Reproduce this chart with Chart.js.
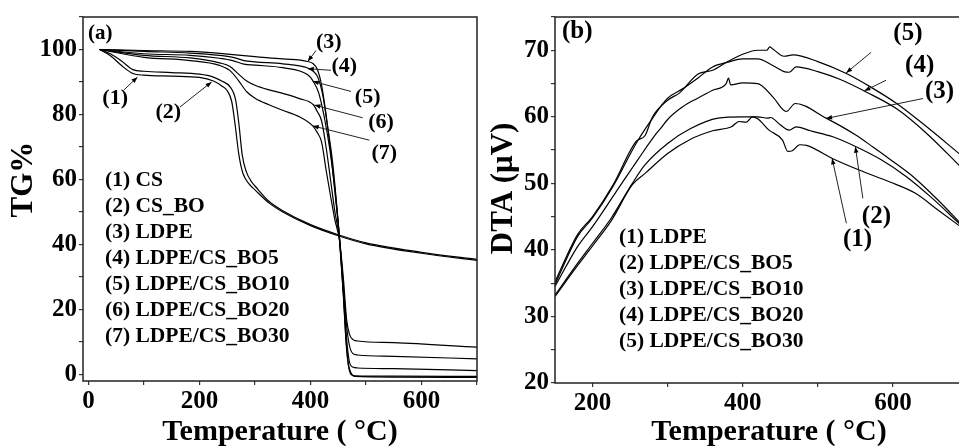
<!DOCTYPE html>
<html>
<head>
<meta charset="utf-8">
<script src="https://cdn.jsdelivr.net/npm/chart.js@4.4.1/dist/chart.umd.min.js"></script>
<style>
html,body{margin:0;padding:0;background:#fff;overflow:hidden;width:959px;height:447px}
#wrapA{position:absolute;left:0;top:0;width:480px;height:447px}
#wrapB{position:absolute;left:480px;top:0;width:496px;height:447px}
</style>
</head>
<body>
<div id="wrapA"><canvas id="tgChart" width="480" height="447"></canvas></div>
<div id="wrapB"><canvas id="dtaChart" width="496" height="447"></canvas></div>
<script>
// ---- panel (a): TG curves, [temperature, TG%]
const TG_CS = [[20,100],[40,98],[60,95],[80,92.6],[100,92.1],[150,91.8],[200,91.4],[225,90.3],[240,88.8],[250,87.3],[258,84],[264,77],[271,67.5],[278,62],[290,58.5],[300,56.8],[325,52.8],[350,50],[400,45.8],[450,42.7],[500,40.2],[600,37.3],[700,35.1]];
const TG_CSBO = [[20,100],[40,98.6],[60,96.4],[80,93.8],[100,93.3],[150,92.9],[200,92.4],[225,91.5],[240,90.3],[255,88.5],[265,84.5],[271,77],[277,67.5],[284,62.5],[295,59],[300,58],[325,53.3],[350,50.4],[400,46.1],[450,43],[500,40.5],[600,37.6],[700,35.4]];
const TG_LDPE = [[20,100],[100,99.7],[183,99.4],[236,98.8],[260,98.4],[300,97.8],[350,97.1],[395,96.3],[405,95.6],[412,94],[420,89],[428,80],[436,69],[444,56],[452,42.5],[459,25],[464,10],[468,3],[473,0],[480,-0.4],[550,-0.5],[700,-0.6]];
const TG_BO5 = [[20,100],[100,99.4],[183,98.9],[236,98.2],[260,97.6],[280,96.6],[300,96.2],[350,95.6],[395,94.3],[405,93.3],[413,91.5],[422,86],[431,76],[440,65],[452,42],[459,25],[464,11],[468,3.5],[473,0.5],[480,-0.6],[550,-0.8],[700,-0.9]];
const TG_BO10 = [[20,100],[100,98.7],[183,98.2],[236,97.3],[260,96.6],[280,95.5],[300,95.2],[350,94.4],[395,92.2],[405,90.2],[415,86.5],[425,79],[435,69],[444,57],[452,42.5],[459,26],[465,11],[470,4],[476,2.3],[485,2],[550,1.8],[700,1.2]];
const TG_BO20 = [[20,100],[100,98.2],[183,97.4],[236,95.9],[255,94.8],[270,92.5],[285,90.3],[300,89],[325,87.6],[350,86.5],[380,84.9],[405,83],[412,81],[420,78],[428,70],[436,60],[444,50],[452,42],[459,28],[465,15],[470,9],[476,6.5],[485,6],[550,5.6],[700,4.8]];
const TG_BO30 = [[20,100],[100,97.6],[183,96.6],[236,95.1],[255,93.5],[270,90.5],[285,87],[300,85],[325,83],[350,81.3],[380,79.3],[404,76.5],[412,74.5],[420,71.5],[428,63],[436,55],[444,47.5],[452,41.5],[459,30],[465,17],[470,12.5],[476,10.8],[485,10.3],[550,9.8],[700,8.4]];
const TG_NAMES = ["(1) CS","(2) CS_BO","(3) LDPE","(4) LDPE/CS_BO5","(5) LDPE/CS_BO10","(6) LDPE/CS_BO20","(7) LDPE/CS_BO30"];
const TG_XTICKS = [0,100,200,300,400,500,600,700];
const TG_YTICKS = [0,10,20,30,40,50,60,70,80,90,100,110];

// ---- panel (b): DTA curves, [temperature, µV]
const DTA_LDPE = [[150,33.0],[175,36.9],[200,40.6],[225,44.4],[253,49.8],[270,51.5],[300,54.5],[330,56.6],[360,57.9],[385,58.5],[395,59.3],[405,59.2],[413,60],[420,59.7],[435,58],[453,56.5],[460,54.8],[466,54.9],[476,55.8],[485,55.7],[520,53.7],[555,52],[596,50.2],[630,48.5],[660,46],[690,43.5]];
const DTA_BO5 = [[150,33.2],[175,37.2],[200,41],[225,44.8],[253,50],[270,52.8],[300,56],[330,58.2],[367,59.8],[400,60],[420,60],[433,59.8],[437,59.9],[450,58.8],[462,58],[471,58.5],[490,57.9],[520,57],[551,55.5],[585,53.5],[618,51],[650,48],[690,43.8]];
const DTA_BO10 = [[150,34.5],[180,40.5],[200,43.5],[230,48.5],[260,53.5],[285,57.5],[291,58.3],[300,59.6],[320,61.5],[340,62.8],[360,64],[378,65],[381,65.8],[384,64.8],[400,65.1],[420,65],[440,63],[458,60.8],[470,62],[511,59.8],[550,57.3],[573,55.5],[600,53.3],[627,51],[660,47.5],[690,44]];
const DTA_BO20 = [[150,34.8],[180,42],[200,44.8],[227,49.5],[258,56],[280,59.8],[300,62.8],[320,64.2],[340,65.8],[360,67.5],[380,68.2],[400,68.7],[420,68.7],[440,67.7],[455,66.8],[462,66.7],[471,67.5],[500,66.8],[530,65.6],[565,63.7],[605,61.2],[645,57.5],[690,52.5]];
const DTA_BO30 = [[150,35.2],[180,42.3],[200,45],[227,49.7],[258,56.3],[270,57.2],[280,60],[300,62.5],[316,63.6],[340,66.4],[360,67],[380,68.3],[400,69.4],[420,70],[432,70],[436,70.5],[440,70.2],[455,69.1],[467,69.3],[500,68.3],[538,66.5],[570,64.5],[605,62],[645,58.5],[690,54.3]];
const DTA_NAMES = ["(1) LDPE","(2) LDPE/CS_BO5","(3) LDPE/CS_BO10","(4) LDPE/CS_BO20","(5) LDPE/CS_BO30"];
const DTA_XTICKS = [200,300,400,500,600,700];
const DTA_YTICKS = [20,25,30,35,40,45,50,55,60,65,70,75];

// curve labels: [text, labelT, labelY, tailT, tailY, headT, headY]
const TG_ARROWS = [
  ["(1)",48,84.9,62.9,87.4,88,91.5],
  ["(2)",143.7,80.8,164.7,82.3,221.7,90],
  ["(3)",433,102.2,410,99.7,395,96.3],
  ["(4)",461,94.9,437,93.6,395,94.1],
  ["(5)",503,85.4,473,87.1,404,90.2],
  ["(6)",527,77.5,494,79,407,82.9],
  ["(7)",533,68,506,72.1,404,76.5]
];
const DTA_ARROWS = [
  ["(5)",620,72.5,571,69.7,537.8,66.6],
  ["(4)",635.6,67.7,591,65.5,562,63.9],
  ["(3)",662,63.75,640,62.75,511,59.75],
  ["(2)",578,45,560,47.75,550,55.5],
  ["(1)",553,41.6,538,44,519,53.75]
];

const SERIF = '"Liberation Serif", "Times New Roman", serif';
const font = px => 'bold ' + px + 'px ' + SERIF;

const panelText = {
  id:"panelText",
  afterDraw(chart, args, o){
    const ctx = chart.ctx, a = chart.chartArea;
    const xs = chart.scales.x, ys = chart.scales.y;
    ctx.save();
    // frame
    ctx.strokeStyle = "#222"; ctx.lineWidth = 1.5;
    ctx.strokeRect(a.left, a.top, a.right - a.left, a.bottom - a.top);
    ctx.fillStyle = "#000";
    ctx.textBaseline = "middle";
    // panel tag
    ctx.font = font(o.tagSize); ctx.textAlign = "left";
    ctx.fillText(o.tag, a.left + o.tagX, a.top + o.tagY);
    // legend text
    ctx.font = font(o.legendSize);
    o.names.forEach((n, i) => ctx.fillText(n, a.left + o.legendX, a.top + o.legendY + i * o.legendGap));
    // arrows + numbers
    ctx.font = font(o.arrowSize); ctx.textAlign = "center";
    ctx.lineWidth = 1;
    o.arrows.forEach(r => {
      ctx.fillText(r[0], xs.getPixelForValue(r[1]), ys.getPixelForValue(r[2]));
      const x1 = xs.getPixelForValue(r[3]), y1 = ys.getPixelForValue(r[4]);
      const x2 = xs.getPixelForValue(r[5]), y2 = ys.getPixelForValue(r[6]);
      const ang = Math.atan2(y2 - y1, x2 - x1);
      ctx.beginPath(); ctx.moveTo(x1, y1); ctx.lineTo(x2, y2); ctx.stroke();
      ctx.beginPath();
      ctx.moveTo(x2, y2);
      ctx.lineTo(x2 - 6 * Math.cos(ang) + 2.3 * Math.sin(ang), y2 - 6 * Math.sin(ang) - 2.3 * Math.cos(ang));
      ctx.lineTo(x2 - 6 * Math.cos(ang) - 2.3 * Math.sin(ang), y2 - 6 * Math.sin(ang) + 2.3 * Math.cos(ang));
      ctx.closePath(); ctx.fill();
    });
    ctx.restore();
  }
};

function lineSets(list){
  return list.map(d => ({
    data: d.map(p => ({x:p[0], y:p[1]})),
    borderColor:"#000", borderWidth:1.2, pointRadius:0, fill:false,
    cubicInterpolationMode:"monotone"
  }));
}

function axis(min, max, tickList, labelEvery, title, size){
  return {
    type:"linear", min, max,
    afterBuildTicks:s => { s.ticks = tickList.map(v => ({value:v})); },
    ticks:{ autoSkip:false, maxRotation:0, padding:2,
      color:"#000", font:{family:SERIF, weight:"bold", size:25},
      callback:v => (Math.round(v) % labelEvery === 0 ? String(v) : "") },
    grid:{ drawOnChartArea:false, tickLength:4, color:"#333", lineWidth:1.2 },
    border:{ display:false },
    title:{ display:true, text:title, color:"#000", padding:{top:0,bottom:0},
      font:{family:SERIF, weight:"bold", size, lineHeight:1} }
  };
}

function makeChart(id, sets, cfg){
  const x = axis(cfg.xMin, cfg.xMax, cfg.xTicks, cfg.xEvery, cfg.xTitle, 30);
  x.afterFit = s => { s.height = cfg.xHeight; };
  const y = axis(cfg.yMin, cfg.yMax, cfg.yTicks, cfg.yEvery, cfg.yTitle, 31);
  y.title.padding = {top:8.5, bottom:0};
  y.afterFit = s => { s.width = cfg.yWidth; };
  return new Chart(document.getElementById(id).getContext("2d"), {
    type:"line",
    data:{ datasets:lineSets(sets) },
    options:{
      responsive:false, animation:false, events:[],
      layout:{ padding:cfg.pad },
      scales:{ x, y },
      plugins:{ legend:{display:false}, tooltip:{enabled:false}, panelText:cfg.text }
    },
    plugins:[panelText]
  });
}

makeChart("tgChart", [TG_CS, TG_CSBO, TG_LDPE, TG_BO5, TG_BO10, TG_BO20, TG_BO30], {
  xMin:-10, xMax:700, xTicks:TG_XTICKS, xEvery:200, xTitle:"Temperature ( \u00B0C)",
  yMin:-2, yMax:110, yTicks:TG_YTICKS, yEvery:20, yTitle:"     TG%",
  xHeight:66, yWidth:83, pad:{top:14, right:3, left:0, bottom:0},
  text:{ tag:"(a)", tagSize:21, tagX:5, tagY:17,
    names:TG_NAMES, legendSize:21.5, legendX:22, legendY:163, legendGap:26,
    arrows:TG_ARROWS, arrowSize:22 }
});

makeChart("dtaChart", [DTA_LDPE, DTA_BO5, DTA_BO10, DTA_BO20, DTA_BO30], {
  xMin:150, xMax:700, xTicks:DTA_XTICKS, xEvery:200, xTitle:"  Temperature ( \u00B0C)",
  yMin:20, yMax:75, yTicks:DTA_YTICKS, yEvery:10, yTitle:"   DTA (\u03BCV)",
  xHeight:64, yWidth:75, pad:{top:16, right:8, left:0, bottom:0},
  text:{ tag:"(b)", tagSize:25, tagX:7, tagY:15,
    names:DTA_NAMES, legendSize:21.5, legendX:64, legendY:220, legendGap:26,
    arrows:DTA_ARROWS, arrowSize:25 }
});
</script>
</body>
</html>
